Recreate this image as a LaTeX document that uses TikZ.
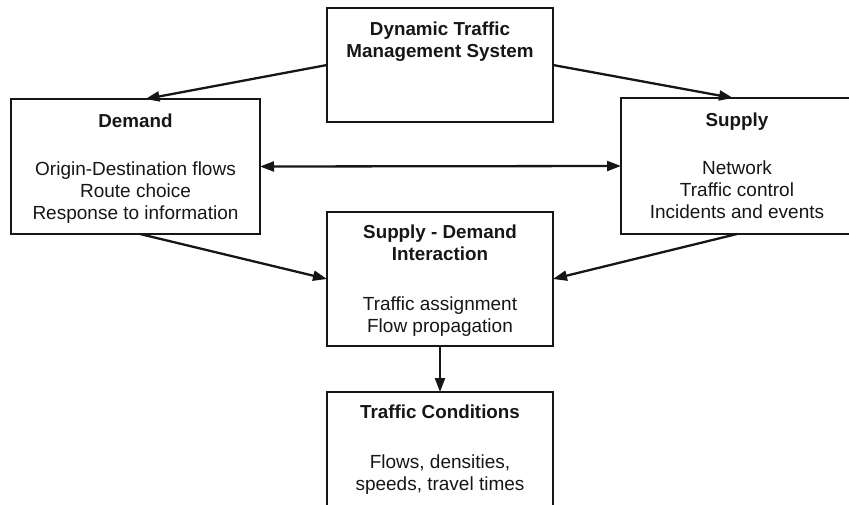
\documentclass[tikz,border=0pt]{standalone}
\usepackage{fontspec}
\setmainfont{Liberation Sans}
\usetikzlibrary{arrows.meta,calc}
\definecolor{ink}{HTML}{161616}
\tikzset{
  box/.style={draw=ink,line width=2.3pt,rectangle,inner sep=0pt,outer sep=0pt},
  lbl/.style={anchor=base,inner sep=0pt,text=ink,font=\fontsize{19}{22}\selectfont},
  ttl/.style={lbl,font=\fontsize{18.8}{22}\selectfont\bfseries},
  conn/.style={draw=ink,line width=2.3pt,-{Triangle[length=14pt,width=10pt]}},
  conn2/.style={draw=ink,line width=2.3pt,{Triangle[length=14pt,width=10pt]}-{Triangle[length=14pt,width=10pt]}}
}
\begin{document}
\begin{tikzpicture}[x=1pt,y=-1pt]
\useasboundingbox (0,0) rectangle (849,504);
\clip (0,0) rectangle (849,504);
% boxes
\node[box,minimum width=226pt,minimum height=114pt] (dtms) at (440,65) {};
\node[box,minimum width=249pt,minimum height=135pt] (demand) at (135.5,166.5) {};
\node[box,minimum width=239pt,minimum height=136pt] (supply) at (740.5,166) {};
\node[box,minimum width=226pt,minimum height=134pt] (inter) at (440,279) {};
\node[box,minimum width=226pt,minimum height=128pt] (cond) at (440,456) {};
% texts
\node[ttl] (t1) at (440,35) {Dynamic Traffic};
\node[ttl] (t2) at (440,57) {Management System};
\node[ttl] (t3) at (135.5,127) {Demand};
\node[lbl] (t4) at (135.5,175) {Origin-Destination flows};
\node[lbl] (t5) at (135.5,197) {Route choice};
\node[lbl] (t6) at (135.5,219) {Response to information};
\node[ttl] (t7) at (737,126) {Supply};
\node[lbl] (t8) at (737,174) {Network};
\node[lbl] (t9) at (737,196) {Traffic control};
\node[lbl] (t10) at (737,218) {Incidents and events};
\node[ttl] (t11) at (440,238) {Supply - Demand};
\node[ttl] (t12) at (440,260) {Interaction};
\node[lbl] (t13) at (440,310) {Traffic assignment};
\node[lbl] (t14) at (440,332) {Flow propagation};
\node[ttl] (t15) at (440,418) {Traffic Conditions};
\node[lbl] (t16) at (440,468) {Flows, densities,};
\node[lbl] (t17) at (440,490) {speeds, travel times};
% connectors
\draw[conn] (dtms.west) -- ([xshift=10pt]demand.north);
\draw[conn] (dtms.east) -- ([xshift=-7.5pt]supply.north);
\draw[conn2] (demand.east) -- (supply.west);
\draw[conn] ([xshift=4.5pt]demand.south) -- (inter.west);
\draw[conn] ([xshift=-3.5pt]supply.south) -- (inter.east);
\draw[conn] (inter.south) -- (cond.north);
\end{tikzpicture}
\end{document}
